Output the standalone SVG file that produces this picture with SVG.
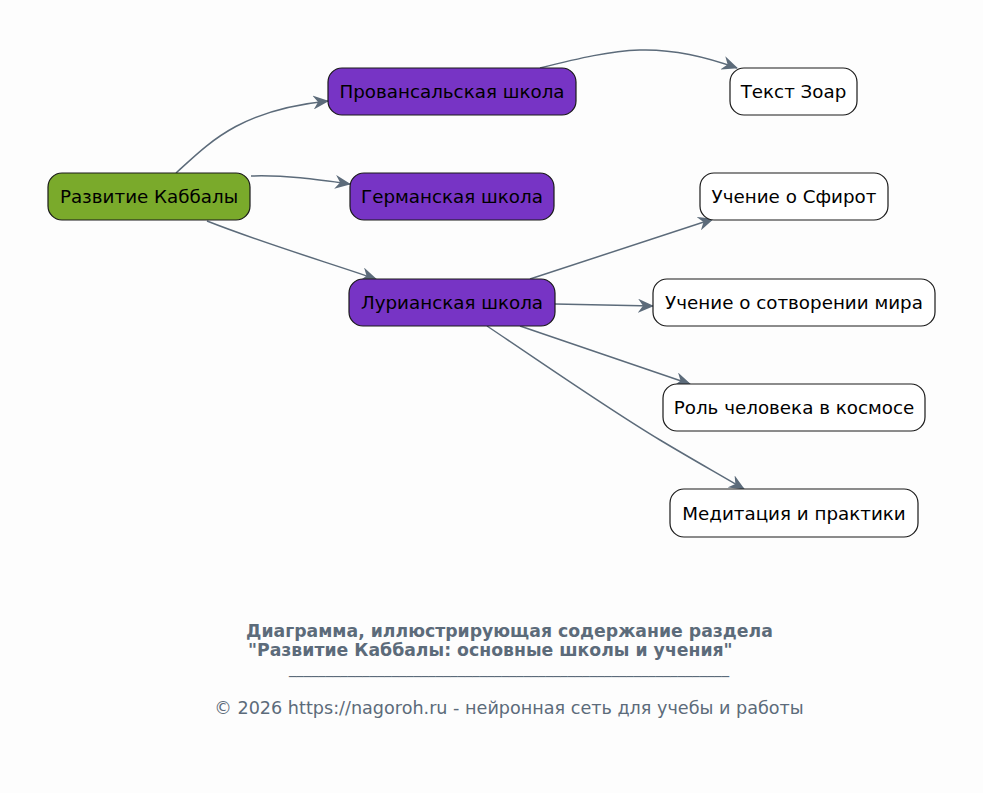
<svg xmlns="http://www.w3.org/2000/svg" width="983" height="793" viewBox="0 0 983 793">
<defs>
<style>
.n rect{stroke:#1a1a1a;stroke-width:1.2}
.g rect{fill:#7aaa2b}
.p rect{fill:#7734c5}
.w rect{fill:#ffffff}
.n text{font-family:"DejaVu Sans",sans-serif;font-size:18.3px;fill:#000;text-anchor:middle;dominant-baseline:central}
.e path{fill:none;stroke:#5c6b7a;stroke-width:1.5}
.t{font-family:"DejaVu Sans",sans-serif;fill:#5c6b7a}
</style>
<marker id="a" viewBox="0 0 16 14" markerWidth="16" markerHeight="14" refX="15" refY="7" orient="auto" markerUnits="userSpaceOnUse">
<path d="M0,0 L16,7 L0,14 L5,7 z" fill="#5c6b7a"/>
</marker>
</defs>
<rect width="983" height="793" fill="#fdfdfd"/>
<g id="edges" class="e">
<path d="M176,173 C210,142 240,110 328,101" marker-end="url(#a)"/>
<path d="M251,176 C285,175 315,179 350,184" marker-end="url(#a)"/>
<path d="M207,221 C260,242 320,260 376,279" marker-end="url(#a)"/>
<path d="M540,68 C620,48 660,40 737,68" marker-end="url(#a)"/>
<path d="M530,279 L713,219" marker-end="url(#a)"/>
<path d="M555,304 L653,306" marker-end="url(#a)"/>
<path d="M520,326 L690,384" marker-end="url(#a)"/>
<path d="M487,326 C560,375 610,410 660,440 C690,458 715,472 744,489" marker-end="url(#a)"/>
</g>
<g id="n1" class="n g"><rect x="48" y="173" width="202" height="47" rx="14"/><text x="149" y="196.5">Развитие Каббалы</text></g>
<g id="n2" class="n p"><rect x="328" y="68" width="248" height="47" rx="14"/><text x="452" y="91.5">Провансальская школа</text></g>
<g id="n3" class="n p"><rect x="350" y="173" width="204" height="47" rx="14"/><text x="452" y="196.5">Германская школа</text></g>
<g id="n4" class="n p"><rect x="349" y="279" width="206" height="47" rx="14"/><text x="452" y="302.5">Лурианская школа</text></g>
<g id="n5" class="n w"><rect x="730" y="68" width="127" height="47" rx="14"/><text x="793.5" y="91.5">Текст Зоар</text></g>
<g id="n6" class="n w"><rect x="700" y="173" width="188" height="47" rx="14"/><text x="794" y="196.5">Учение о Сфирот</text></g>
<g id="n7" class="n w"><rect x="653" y="279" width="282" height="47" rx="14"/><text x="794" y="302.5">Учение о сотворении мира</text></g>
<g id="n8" class="n w"><rect x="663" y="384" width="262" height="47" rx="14"/><text x="794" y="407.5">Роль человека в космосе</text></g>
<g id="n9" class="n w"><rect x="670" y="489" width="248" height="48" rx="14"/><text x="794" y="513">Медитация и практики</text></g>
<g id="title">
<text class="t" x="246" y="637" font-size="17.3" font-weight="bold">Диаграмма, иллюстрирующая содержание раздела</text>
<text class="t" x="248" y="656" font-size="17.3" font-weight="bold">"Развитие Каббалы: основные школы и учения"</text>
<text class="t" x="509" y="673" font-size="15" text-anchor="middle" textLength="440" lengthAdjust="spacingAndGlyphs">____________________________________________________________</text>
<text class="t" x="509" y="714" font-size="17.6" text-anchor="middle">© 2026 https://nagoroh.ru - нейронная сеть для учебы и работы</text>
</g>
</svg>
